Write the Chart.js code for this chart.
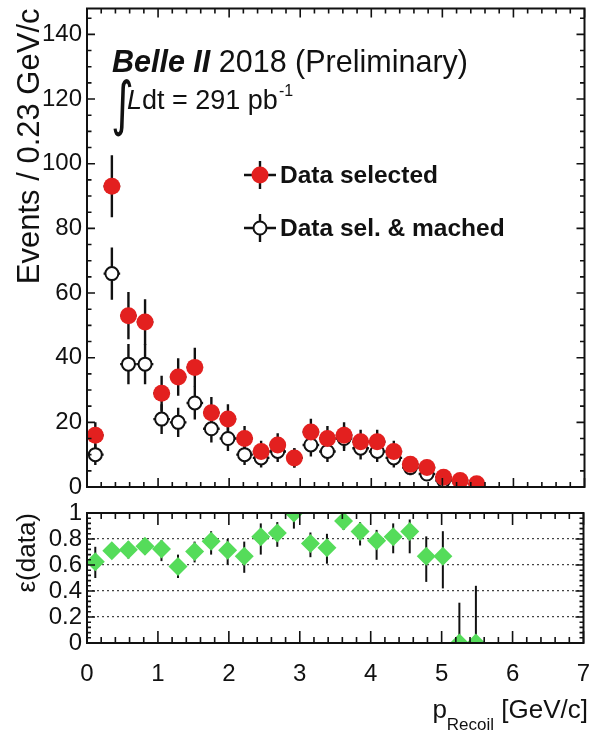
<!DOCTYPE html>
<html>
<head>
<meta charset="utf-8">
<script src="https://cdn.jsdelivr.net/npm/chart.js@4/dist/chart.umd.min.js"></script>
<style>
  html, body { margin: 0; padding: 0; background: #fff; }
  #wrap { position: relative; width: 593px; height: 731px; overflow: hidden; }
  #topPad { position: absolute; left: 0; top: 0; }
  #ratioPad { position: absolute; left: 0; top: 500px; }
</style>
</head>
<body>
<div id="wrap">
  <canvas id="topPad" width="593" height="500"></canvas>
  <canvas id="ratioPad" width="593" height="231"></canvas>
</div>
<script>
// Recoil momentum bin centres [GeV/c], 30 bins of 0.233 GeV/c between 0 and 7
const binCenters = [0.117, 0.350, 0.583, 0.817, 1.050, 1.283, 1.517, 1.750, 1.983, 2.217,
                    2.450, 2.683, 2.917, 3.150, 3.383, 3.617, 3.850, 4.083, 4.317, 4.550,
                    4.783, 5.017, 5.250, 5.483];
const binHalfWidth = 0.1167;

// Selected events per bin and their statistical errors
const selected    = [16, 93, 53, 51, 29, 34, 37, 23, 21, 15, 11, 13, 9, 17, 15, 16, 14, 14, 11, 7, 6, 3, 2, 1];
const selectedErr = [4.0, 9.6, 7.3, 7.1, 5.4, 5.8, 6.1, 4.8, 4.6, 3.9, 3.3, 3.6, 3.0, 4.1, 3.9, 4.0, 3.7, 3.7, 3.3, 2.6, 2.4, 1.7, 1.4, 1.0];

// Selected and truth-matched events per bin
const matched    = [10, 66, 38, 38, 21, 20, 26, 18, 15, 10, 9, 11, 9, 13, 11, 15, 12, 11, 9, 6, 4, 2, null, null];
const matchedErr = [3.2, 8.1, 6.2, 6.2, 4.6, 4.5, 5.1, 4.2, 3.9, 3.2, 3.0, 3.3, 3.0, 3.6, 3.3, 3.9, 3.5, 3.3, 3.0, 2.4, 2.0, 1.4, null, null];

// Efficiency per bin with asymmetric interval edges
const efficiency = [0.625, 0.710, 0.717, 0.745, 0.724, 0.588, 0.703, 0.783, 0.714, 0.667, 0.818, 0.846,
                    1.000, 0.765, 0.733, 0.938, 0.857, 0.786, 0.818, 0.857, 0.667, 0.667, 0.000, 0.000];
const effLow  = [0.50, 0.66, 0.65, 0.68, 0.63, 0.50, 0.62, 0.68, 0.60, 0.54, 0.68, 0.74,
                 0.88, 0.66, 0.61, 0.87, 0.75, 0.64, 0.69, 0.69, 0.47, 0.42, 0.00, 0.00];
const effHigh = [0.74, 0.76, 0.78, 0.80, 0.79, 0.68, 0.78, 0.86, 0.80, 0.78, 0.92, 0.93,
                 1.00, 0.85, 0.84, 0.99, 0.93, 0.87, 0.92, 0.95, 0.82, 0.86, 0.31, 0.44];

// Axis ticks
const xTickStep = 1, xMinorStep = 0.2;
const yTopTickStep = 20, yTopMinorStep = 5;
const yRatioTickStep = 0.2, yRatioMinorStep = 0.04;

const FONT = "'Liberation Sans', Arial, Helvetica, sans-serif";
const INK = '#111';
const RED = '#e3201f';
const GREEN = '#55dc5a';

Chart.defaults.font.family = FONT;
Chart.defaults.color = INK;

// Points of a series as {x, y}
function points(values) {
  return binCenters.map((x, i) => ({ x: x, y: values[i] }));
}

// Keep the plot frame exactly where the layout puts it: no extra room for edge labels
function fixWidth(w) {
  return s => { s.width = w; s.paddingTop = 0; s.paddingBottom = 0; };
}

// Frame plus inward-pointing ticks on all four sides
const frameTicks = {
  id: 'frameTicks',
  afterDatasetsDraw(chart, args, opts) {
    const { ctx, chartArea: a, scales } = chart;
    const xs = scales.x, ys = scales.y;
    ctx.save();
    ctx.strokeStyle = INK;
    ctx.lineWidth = 1.6;
    ctx.beginPath();
    const eps = 1e-9;
    for (let v = xs.min; v <= xs.max + eps; v += opts.xMinor) {
      const px = xs.getPixelForValue(v);
      const major = Math.abs(v / opts.xMajor - Math.round(v / opts.xMajor)) < 1e-6;
      const len = major ? opts.xMajorLen : opts.xMinorLen;
      ctx.moveTo(px, a.bottom); ctx.lineTo(px, a.bottom - len);
      ctx.moveTo(px, a.top); ctx.lineTo(px, a.top + len);
    }
    for (let v = ys.min; v <= ys.max + eps; v += opts.yMinor) {
      const py = ys.getPixelForValue(v);
      const major = Math.abs(v / opts.yMajor - Math.round(v / opts.yMajor)) < 1e-6;
      const len = major ? opts.yMajorLen : opts.yMinorLen;
      ctx.moveTo(a.left, py); ctx.lineTo(a.left + len, py);
      ctx.moveTo(a.right, py); ctx.lineTo(a.right - len, py);
    }
    ctx.stroke();
    ctx.lineWidth = 2;
    ctx.strokeRect(a.left, a.top, a.right - a.left, a.bottom - a.top);
    ctx.restore();
  }
};

// Error bars drawn beneath the markers
const errorBars = {
  id: 'errorBars',
  beforeDatasetsDraw(chart) {
    const { ctx, scales } = chart;
    const xs = scales.x, ys = scales.y;
    ctx.save();
    ctx.strokeStyle = INK;
    chart.data.datasets.forEach(ds => {
      ctx.lineWidth = ds.errLineWidth || 2.4;
      ds.data.forEach((p, i) => {
        if (p.y === null || p.y === undefined) return;
        let lo, hi;
        if (ds.errY) { if (ds.errY[i] == null) return; lo = p.y - ds.errY[i]; hi = p.y + ds.errY[i]; }
        else { lo = ds.errLow[i]; hi = ds.errHigh[i]; }
        const px = xs.getPixelForValue(p.x);
        ctx.beginPath();
        ctx.moveTo(px, ys.getPixelForValue(lo));
        ctx.lineTo(px, ys.getPixelForValue(hi));
        if (ds.errX) {
          const py = ys.getPixelForValue(p.y);
          ctx.moveTo(xs.getPixelForValue(p.x - ds.errX), py);
          ctx.lineTo(xs.getPixelForValue(p.x + ds.errX), py);
        }
        ctx.stroke();
      });
    });
    ctx.restore();
  }
};

// Experiment label, luminosity and legend of the upper pad
const topText = {
  id: 'topText',
  afterDraw(chart) {
    const ctx = chart.ctx;
    ctx.save();
    ctx.fillStyle = INK;
    ctx.textBaseline = 'alphabetic';
    ctx.textAlign = 'left';

    ctx.font = `italic bold 30.5px ${FONT}`;
    ctx.fillText('Belle II', 112, 72);
    const w = ctx.measureText('Belle II').width;
    ctx.font = `30.5px ${FONT}`;
    ctx.fillText(' 2018 (Preliminary)', 112 + w, 72);

    // integral sign, stretched vertically
    ctx.save();
    ctx.font = `44px 'DejaVu Sans'`;
    ctx.translate(111, 124);
    ctx.scale(1, 1.35);
    ctx.fillText('\u222B', 0, 0);
    ctx.restore();

    ctx.font = `italic 27px ${FONT}`;
    ctx.fillText('L', 127, 109);
    let x = 127 + ctx.measureText('L').width;
    ctx.font = `27px ${FONT}`;
    ctx.fillText('dt = 291 pb', x, 109);
    x += ctx.measureText('dt = 291 pb').width + 1;
    ctx.font = `16px ${FONT}`;
    ctx.fillText('-1', x, 96);

    // legend
    const rows = [
      { y: 175, text: 'Data selected', fill: RED, stroke: null, r: 8.5 },
      { y: 228, text: 'Data sel. & mached', fill: '#fff', stroke: INK, r: 6.5 }
    ];
    rows.forEach(row => {
      const mx = 260;
      ctx.strokeStyle = INK;
      ctx.lineWidth = 2.4;
      ctx.beginPath();
      ctx.moveTo(mx - 16, row.y); ctx.lineTo(mx + 16, row.y);
      ctx.moveTo(mx, row.y - 14); ctx.lineTo(mx, row.y + 14);
      ctx.stroke();
      ctx.beginPath();
      ctx.arc(mx, row.y, row.r, 0, Math.PI * 2);
      ctx.fillStyle = row.fill;
      ctx.fill();
      if (row.stroke) { ctx.lineWidth = 2; ctx.strokeStyle = row.stroke; ctx.stroke(); }
      ctx.fillStyle = INK;
      ctx.font = `bold 24.5px ${FONT}`;
      ctx.textBaseline = 'middle';
      ctx.fillText(row.text, 280, row.y + 1);
      ctx.textBaseline = 'alphabetic';
    });
    ctx.restore();
  }
};

// x-axis title with subscript on the lower pad
const xTitle = {
  id: 'xTitle',
  afterDraw(chart) {
    const ctx = chart.ctx;
    ctx.save();
    ctx.fillStyle = INK;
    ctx.textAlign = 'left';
    ctx.textBaseline = 'alphabetic';
    const main = ' [GeV/c]';
    ctx.font = `26px ${FONT}`;
    const wMain = ctx.measureText(main).width;
    ctx.font = `17px ${FONT}`;
    const wSub = ctx.measureText('Recoil').width;
    ctx.font = `26px ${FONT}`;
    const wP = ctx.measureText('p').width;
    const right = 588;
    const baseY = 218;
    let x = right - wMain - wSub - wP;
    ctx.fillText('p', x, baseY);
    x += wP;
    ctx.font = `17px ${FONT}`;
    ctx.fillText('Recoil', x, baseY + 12);
    x += wSub;
    ctx.font = `26px ${FONT}`;
    ctx.fillText(main, x, baseY);
    ctx.restore();
  }
};

const common = {
  responsive: false,
  animation: false,
  devicePixelRatio: 1,
  events: [],
  plugins: { legend: { display: false }, tooltip: { enabled: false } }
};

// Upper pad: event counts
new Chart(document.getElementById('topPad'), {
  type: 'scatter',
  data: {
    datasets: [
      {
        label: 'Data selected',
        data: points(selected),
        errY: selectedErr, errX: binHalfWidth,
        pointStyle: 'circle', pointRadius: 8.5,
        backgroundColor: RED, borderColor: RED, borderWidth: 0,
        order: 0
      },
      {
        label: 'Data sel. & mached',
        data: points(matched),
        errY: matchedErr, errX: binHalfWidth,
        pointStyle: 'circle', pointRadius: 6.5,
        backgroundColor: '#fff', borderColor: INK, borderWidth: 2,
        order: 1
      }
    ]
  },
  options: Object.assign({}, common, {
    layout: { padding: { top: 8, right: 5, left: 0, bottom: 13 } },
    scales: {
      x: { type: 'linear', min: 0, max: 7, display: false },
      y: {
        type: 'linear', min: 0, max: 148,
        afterFit: fixWidth(87),
        grid: { display: false, drawTicks: false },
        border: { display: false },
        ticks: { stepSize: yTopTickStep, includeBounds: false, autoSkip: false, padding: 5,
                 font: { size: 24 }, color: INK },
        title: { display: true, text: 'Events / 0.23 GeV/c', align: 'end', color: INK,
                 font: { size: 31 }, padding: { top: 12, bottom: 0 } }
      }
    },
    plugins: Object.assign({}, common.plugins, {
      frameTicks: { xMajor: xTickStep, xMinor: xMinorStep, yMajor: yTopTickStep, yMinor: yTopMinorStep,
                    xMajorLen: 9, xMinorLen: 5, yMajorLen: 8, yMinorLen: 4.5 }
    })
  }),
  plugins: [errorBars, frameTicks, topText]
});

// Lower pad: efficiency
new Chart(document.getElementById('ratioPad'), {
  type: 'scatter',
  data: {
    datasets: [
      {
        label: '\u03B5(data)',
        data: points(efficiency),
        errLow: effLow, errHigh: effHigh, errLineWidth: 2,
        pointStyle: 'rectRot', pointRadius: 9.5,
        backgroundColor: GREEN, borderColor: GREEN, borderWidth: 0
      }
    ]
  },
  options: Object.assign({}, common, {
    layout: { padding: { top: 13, right: 5, left: 0, bottom: 0 } },
    scales: {
      x: {
        type: 'linear', min: 0, max: 7,
        afterFit(s) { s.height = 88; s.paddingLeft = 0; s.paddingRight = 0; },
        grid: { display: false, drawTicks: false },
        border: { display: false },
        ticks: { stepSize: xTickStep, padding: 17, autoSkip: false, font: { size: 24 }, color: INK, maxRotation: 0 }
      },
      y: {
        type: 'linear', min: 0, max: 1,
        afterFit: fixWidth(87),
        grid: {
          drawTicks: false, lineWidth: 1.3,
          color: c => (c.tick && (c.tick.value === 0 || c.tick.value === 1)) ? 'rgba(0,0,0,0)' : '#444'
        },
        border: { display: false, dash: [2, 3] },
        ticks: { stepSize: yRatioTickStep, autoSkip: false, padding: 5, font: { size: 24 }, color: INK,
                 callback: v => String(+v.toFixed(2)) },
        title: { display: true, text: '\u03B5(data)', align: 'end', color: INK,
                 font: { size: 26 }, padding: { top: 12, bottom: 0 } }
      }
    },
    plugins: Object.assign({}, common.plugins, {
      frameTicks: { xMajor: xTickStep, xMinor: xMinorStep, yMajor: yRatioTickStep, yMinor: yRatioMinorStep,
                    xMajorLen: 12, xMinorLen: 6, yMajorLen: 8, yMinorLen: 4 }
    })
  }),
  plugins: [errorBars, frameTicks, xTitle]
});
</script>
</body>
</html>
